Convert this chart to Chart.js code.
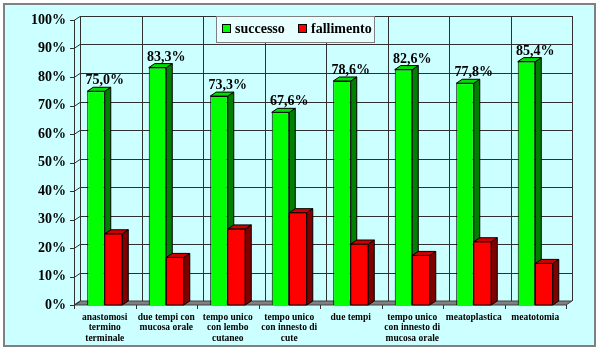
<!DOCTYPE html>
<html>
<head>
<meta charset="utf-8">
<script src="https://cdn.jsdelivr.net/npm/chart.js@4.4.0/dist/chart.umd.min.js"></script>
<style>
  body { margin: 0; background: #fff; }
  canvas { display: block; }
</style>
</head>
<body>
<canvas id="chart" width="600" height="351"></canvas>
<script>
const categories = [
    ['anastomosi', 'termino', 'terminale'],
    ['due tempi con', 'mucosa orale'],
    ['tempo unico', 'con lembo', 'cutaneo'],
    ['tempo unico', 'con innesto di', 'cute'],
    ['due tempi'],
    ['tempo unico', 'con innesto di', 'mucosa orale'],
    ['meatoplastica'],
    ['meatotomia']
];
const successo = [75.0, 83.3, 73.3, 67.6, 78.6, 82.6, 77.8, 85.4];
const fallimento = [25.0, 16.7, 26.7, 32.4, 21.4, 17.4, 22.2, 14.6];
const seriesNames = ['successo', 'fallimento'];

// depth of the fake 3d effect
const DX = 6, DY = -4;
const FONT = "'Liberation Serif', 'Times New Roman', serif";

const faces = [
    { front: '#00ff00', side: '#008000', top: '#00dd00' },
    { front: '#ff0000', side: '#800000', top: '#d00000' }
];

function poly(ctx, pts, fill, stroke) {
    ctx.beginPath();
    ctx.moveTo(pts[0][0], pts[0][1]);
    for (let i = 1; i < pts.length; i++) ctx.lineTo(pts[i][0], pts[i][1]);
    ctx.closePath();
    ctx.fillStyle = fill;
    ctx.fill();
    if (stroke) {
        ctx.strokeStyle = stroke;
        ctx.lineWidth = 1;
        ctx.stroke();
    }
}

const box3d = {
    id: 'box3d',
    beforeDraw(chart) {
        const ctx = chart.ctx;
        ctx.save();
        ctx.fillStyle = '#ffffff';
        ctx.fillRect(0, 0, chart.width, chart.height);
        ctx.fillStyle = '#ccffff';
        ctx.fillRect(4, 4, 591, 342);
        ctx.strokeStyle = '#808080';
        ctx.lineWidth = 2;
        ctx.strokeRect(4, 4, 591, 342);
        ctx.restore();
    },
    beforeDatasetsDraw(chart) {
        const ctx = chart.ctx;
        const a = chart.chartArea;
        const y = chart.scales.y;
        ctx.save();
        // floor
        poly(ctx, [[a.left, a.bottom], [a.left + DX, a.bottom + DY],
                   [a.right + DX, a.bottom + DY], [a.right, a.bottom]], '#808080', '#404040');
        ctx.strokeStyle = '#303030';
        ctx.lineWidth = 1;
        // horizontal grid on back wall + left wall
        y.ticks.forEach(t => {
            const py = Math.round(y.getPixelForValue(t.value)) + 0.5;
            ctx.beginPath();
            if (t.value > 0) {
                ctx.moveTo(a.left + DX, py + DY);
                ctx.lineTo(a.right + DX, py + DY);
            }
            ctx.moveTo(a.left - 4, py);
            ctx.lineTo(a.left, py);
            ctx.lineTo(a.left + DX, py + DY);
            ctx.stroke();
        });
        // vertical grid on back wall + separators under floor
        const n = categories.length;
        const step = (a.right - a.left) / n;
        for (let i = 0; i <= n; i++) {
            const px = Math.round(a.left + i * step) + 0.5;
            ctx.beginPath();
            ctx.moveTo(px + DX, a.top + DY);
            ctx.lineTo(px + DX, a.bottom + DY);
            ctx.moveTo(px, a.bottom);
            ctx.lineTo(px, a.bottom + 4);
            ctx.stroke();
        }
        // front left axis
        ctx.beginPath();
        ctx.moveTo(a.left + 0.5, a.top);
        ctx.lineTo(a.left + 0.5, a.bottom);
        ctx.stroke();
        ctx.restore();
    },
    afterDatasetsDraw(chart) {
        const ctx = chart.ctx;
        const m0 = chart.getDatasetMeta(0).data;
        const m1 = chart.getDatasetMeta(1).data;
        ctx.save();
        for (let i = 0; i < m0.length; i++) {
            [m0[i], m1[i]].forEach((bar, k) => {
                const p = bar.getProps(['x', 'y', 'base', 'width'], true);
                const xl = p.x - p.width / 2, xr = p.x + p.width / 2;
                const yt = p.y, yb = p.base;
                const f = faces[k];
                if (k === 1) {
                    poly(ctx, [[xl, yt], [xr, yt], [xr, yb], [xl, yb]], f.front, '#000');
                }
                poly(ctx, [[xr, yt], [xr + DX, yt + DY], [xr + DX, yb + DY], [xr, yb]], f.side, '#000');
                poly(ctx, [[xl, yt], [xl + DX, yt + DY], [xr + DX, yt + DY], [xr, yt]], f.top, '#000');
            });
            // value label over the group
            const g = m0[i].getProps(['x', 'y', 'width'], true);
            ctx.fillStyle = '#000';
            ctx.font = 'bold 14px ' + FONT;
            ctx.textAlign = 'center';
            ctx.textBaseline = 'alphabetic';
            ctx.fillText(successo[i].toFixed(1).replace('.', ',') + '%', g.x + g.width / 2, g.y + DY - 3);
        }
        // legend
        ctx.fillStyle = '#e8ffff';
        ctx.fillRect(216, 16, 159, 26);
        ctx.strokeStyle = '#808080';
        ctx.lineWidth = 1;
        ctx.strokeRect(216.5, 16.5, 158, 26);
        const items = [[222, 235], [298, 311]];
        ctx.font = 'bold 14px ' + FONT;
        ctx.textAlign = 'left';
        ctx.textBaseline = 'middle';
        items.forEach((it, k) => {
            ctx.fillStyle = faces[k].front;
            ctx.fillRect(it[0], 24, 9, 9);
            ctx.strokeStyle = '#000';
            ctx.strokeRect(it[0] + 0.5, 24.5, 8, 8);
            ctx.fillStyle = '#000';
            ctx.fillText(seriesNames[k], it[1], 29);
        });
        ctx.restore();
    }
};

new Chart(document.getElementById('chart').getContext('2d'), {
    type: 'bar',
    data: {
        labels: categories,
        datasets: [{
            label: seriesNames[0],
            data: successo,
            backgroundColor: faces[0].front,
            borderColor: '#000',
            borderWidth: 1,
            categoryPercentage: 0.57,
            barPercentage: 1
        }, {
            label: seriesNames[1],
            data: fallimento,
            backgroundColor: faces[1].front,
            borderColor: '#000',
            borderWidth: 1,
            categoryPercentage: 0.57,
            barPercentage: 1
        }]
    },
    options: {
        responsive: false,
        animation: false,
        layout: { padding: { top: 20, right: 34, left: 0, bottom: 0 } },
        plugins: { legend: { display: false }, tooltip: { enabled: false } },
        scales: {
            x: {
                grid: { display: false, drawTicks: false },
                border: { display: false },
                ticks: {
                    color: '#000',
                    font: { family: FONT, size: 9.5, weight: 'bold', lineHeight: 1.1 },
                    padding: 7,
                    maxRotation: 0,
                    autoSkip: false
                },
                afterFit: s => { s.height = 46; }
            },
            y: {
                min: 0,
                max: 100,
                grid: { display: false, drawTicks: false },
                border: { display: false },
                ticks: {
                    stepSize: 10,
                    color: '#000',
                    font: { family: FONT, size: 14, weight: 'bold' },
                    padding: 8,
                    callback: v => v + '%'
                },
                afterFit: s => { s.height = s.height; s.width = 74; }
            }
        }
    },
    plugins: [box3d]
});
</script>
</body>
</html>
